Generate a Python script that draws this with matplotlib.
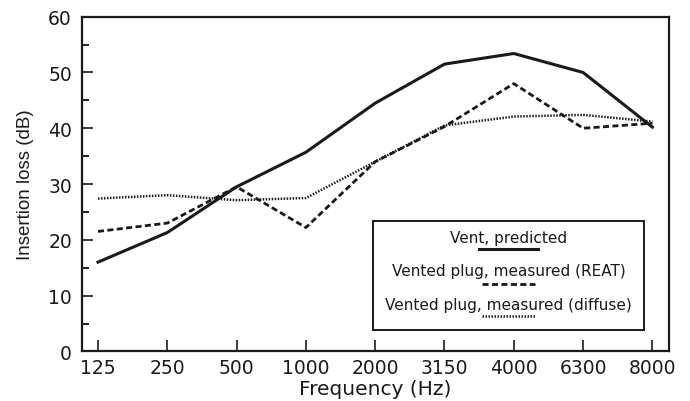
import matplotlib
matplotlib.use("Agg")
import matplotlib.pyplot as plt
from matplotlib.lines import Line2D
from matplotlib.patches import Rectangle
from matplotlib.ticker import MultipleLocator

freqs = ["125", "250", "500", "1000", "2000", "3150", "4000", "6300", "8000"]
vent_predicted = [16.0, 21.3, 29.5, 35.7, 44.5, 51.5, 53.4, 50.0, 40.2]
plug_reat = [21.5, 23.0, 29.5, 22.2, 34.0, 40.3, 48.0, 40.0, 40.9]
plug_diffuse = [27.4, 28.0, 27.1, 27.5, 34.0, 40.5, 42.1, 42.4, 41.2]

series_labels = ["Vent, predicted", "Vented plug, measured (REAT)",
                 "Vented plug, measured (diffuse)"]

plt.rcParams['font.family'] = ['DejaVu Sans']

fig = plt.figure(figsize=(6.9, 4.02), dpi=100)
ax = fig.add_axes([0.1184, 0.1234, 0.8512, 0.8326])

x = list(range(len(freqs)))
styles = [dict(ls='-', lw=2.2), dict(ls=(0, (2.2, 1.2)), lw=2.0), dict(ls=(0, (0.6, 0.6)), lw=1.8)]
for ys, st in zip([vent_predicted, plug_reat, plug_diffuse], styles):
    ax.plot(x, ys, color='#1a1a1a', **st)

ax.set_xlim(-0.235, 8.24)
ax.set_ylim(0, 60)
ax.set_xticks(x)
ax.set_xticklabels(freqs)
ax.yaxis.set_major_locator(MultipleLocator(10))
ax.yaxis.set_minor_locator(MultipleLocator(5))
ax.tick_params(axis='both', which='major', direction='in', length=8, width=1.2,
               labelsize=13.5, colors='#1a1a1a', pad=5)
ax.tick_params(axis='y', which='minor', direction='in', length=5, width=1.2)
ax.tick_params(axis='x', which='minor', length=0)
ax.tick_params(axis='y', which='major', pad=7)
for s in ax.spines.values():
    s.set_linewidth(1.6)
    s.set_color('#1a1a1a')

ax.set_xlabel("Frequency (Hz)", fontsize=14.5, color='#1a1a1a', labelpad=1)
ax.set_ylabel("Insertion loss (dB)", fontsize=13.5, color='#1a1a1a',
              family=['Liberation Sans'], labelpad=10)

# custom legend box (text above line sample)
bx0, bx1, by0, by1 = 0.496, 0.957, 0.064, 0.389
ax.add_patch(Rectangle((bx0, by0), bx1 - bx0, by1 - by0, transform=ax.transAxes,
                       fill=True, facecolor='white', edgecolor='#1a1a1a', lw=1.4, zorder=5))
cx = (bx0 + bx1) / 2
text_y = [0.34, 0.243, 0.14]
line_y = [0.305, 0.2, 0.105]
half_w = [0.05, 0.045, 0.045]
for lab, ty, ly, hw, st in zip(series_labels, text_y, line_y, half_w, styles):
    ax.text(cx, ty, lab, transform=ax.transAxes, ha='center', va='center',
            fontsize=11, color='#1a1a1a', zorder=6)
    ax.add_line(Line2D([cx - hw, cx + hw], [ly, ly], transform=ax.transAxes,
                       color='#1a1a1a', zorder=6, **st))

fig.savefig("out.png", dpi=100)
